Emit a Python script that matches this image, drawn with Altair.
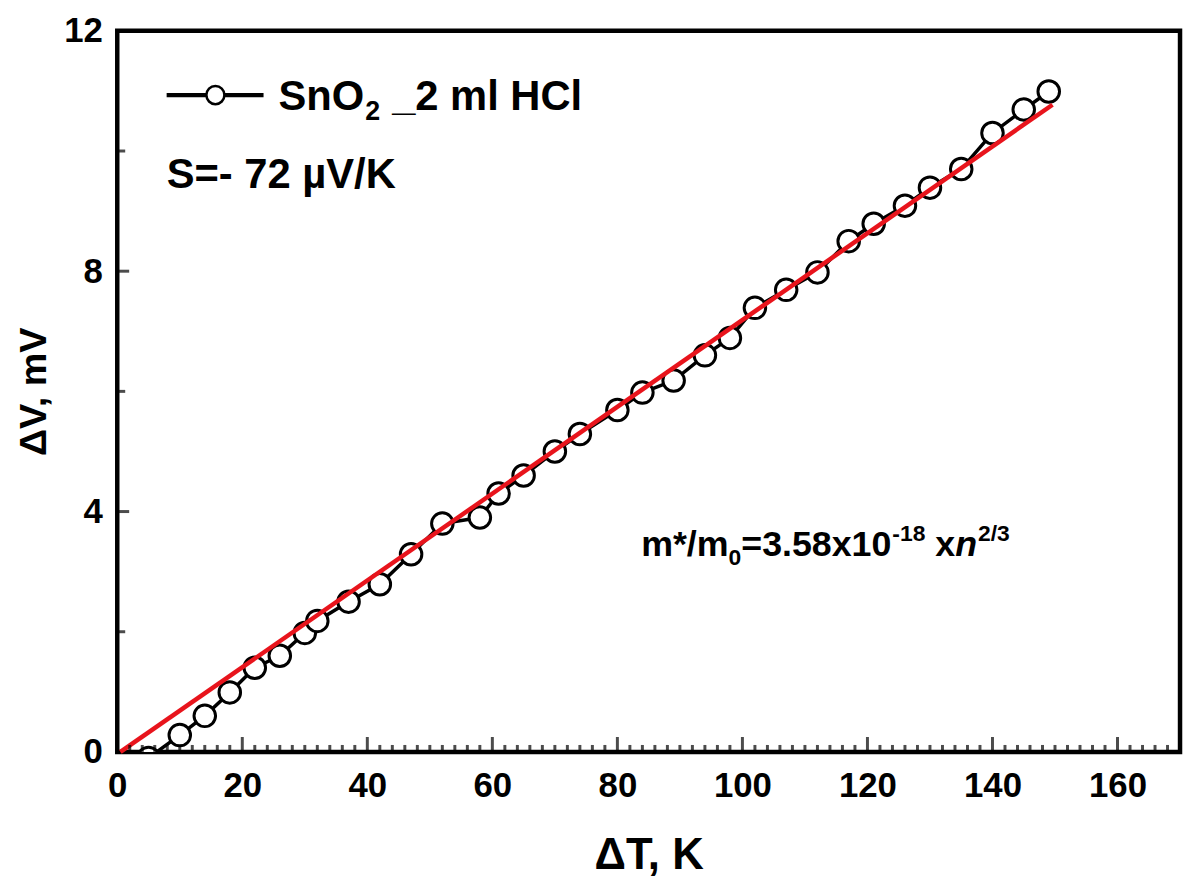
import altair as alt
import pandas as pd

# ---- data ----
dT = [5, 10, 14, 18, 22, 26, 30, 32, 37, 42, 47, 52, 58, 61, 65, 70, 74, 80, 84,
      89, 94, 98, 102, 107, 112, 117, 121, 126, 130, 135, 140, 145, 149]
dV = [-0.10, 0.28, 0.60, 0.99, 1.40, 1.60, 1.98, 2.18, 2.50, 2.79, 3.29, 3.80, 3.90,
      4.30, 4.60, 5.00, 5.29, 5.69, 5.98, 6.18, 6.60, 6.89, 7.39, 7.69, 7.98, 8.50,
      8.79, 9.09, 9.39, 9.70, 10.30, 10.69, 10.99]
fit_T = [0.5, 149.6]
fit_V = [0.0, 10.77]

x_major = [20, 40, 60, 80, 100, 120, 140, 160]
x_minor = [v for v in range(2, 170, 2) if v % 20 != 0]
y_major = [4, 8]
y_minor = [2, 6, 10]
x_labels = [0, 20, 40, 60, 80, 100, 120, 140, 160]
y_labels = [0, 4, 8, 12]

FONT = "Liberation Sans"
W, H = 1070, 726

xs = alt.Scale(domain=[0, 170], nice=False, zero=False)
ys = alt.Scale(domain=[0, 12], nice=False, zero=False)

# Arial/Liberation Sans Bold advance widths (em)
AW = {"S": .667, "n": .611, "O": .778, "2": .556, " ": .278, "_": .556,
      "m": .889, "l": .278, "H": .722, "C": .722, "*": .389, "/": .278, "0": .556,
      "=": .584, "3": .556, ".": .278, "5": .556, "8": .556, "x": .556, "1": .556,
      "-": .333}


def tw(s, size):
    return sum(AW.get(c, .556) for c in s) * size


df = pd.DataFrame({"dT": dT, "dV": dV})
fit = pd.DataFrame({"dT": fit_T, "dV": fit_V})

X = alt.X("dT:Q", scale=xs,
          axis=alt.Axis(values=x_labels, title="ΔT, K", grid=False, ticks=False,
                        domain=False, labelFont=FONT, labelFontSize=35,
                        labelFontWeight="bold", labelColor="black", labelPadding=17,
                        labelFlush=False,
                        titleFont=FONT, titleFontSize=44, titleFontWeight="bold",
                        titleColor="black", titlePadding=30, format="d"))
Y = alt.Y("dV:Q", scale=ys,
          axis=alt.Axis(values=y_labels, title="ΔV, mV", grid=False, ticks=False,
                        domain=False, labelFont=FONT, labelFontSize=35,
                        labelFontWeight="bold", labelColor="black", labelPadding=15,
                        labelFlush=False,
                        titleFont=FONT, titleFontSize=38, titleFontWeight="bold",
                        titleColor="black", titlePadding=10, format="d"))

line = alt.Chart(df).mark_line(color="black", strokeWidth=3.5, clip=True).encode(x=X, y=Y)
pts = alt.Chart(df).mark_point(shape="circle", filled=True, fill="white", stroke="black",
                               strokeWidth=3, size=470, opacity=1, clip=True).encode(
    x=alt.X("dT:Q", scale=xs), y=alt.Y("dV:Q", scale=ys))
red = alt.Chart(fit).mark_line(color="#e8141c", strokeWidth=4.5).encode(
    x=alt.X("dT:Q", scale=xs), y=alt.Y("dV:Q", scale=ys))

# inward ticks
XMAJ, XMIN, YMAJ, YMIN = 15, 7, 12, 8
xmaj = alt.Chart(pd.DataFrame({"t": x_major})).mark_tick(
    color="black", thickness=3, size=XMAJ).encode(
    x=alt.X("t:Q", scale=xs), y=alt.value(H - XMAJ / 2))
xmin = alt.Chart(pd.DataFrame({"t": x_minor})).mark_tick(
    color="black", thickness=3, size=XMIN).encode(
    x=alt.X("t:Q", scale=xs), y=alt.value(H - XMIN / 2))
ymaj = alt.Chart(pd.DataFrame({"t": y_major})).mark_tick(
    color="black", thickness=3, size=YMAJ).encode(
    y=alt.Y("t:Q", scale=ys), x=alt.value(YMAJ / 2))
ymin = alt.Chart(pd.DataFrame({"t": y_minor})).mark_tick(
    color="black", thickness=3, size=YMIN).encode(
    y=alt.Y("t:Q", scale=ys), x=alt.value(YMIN / 2))

# legend
leg_line = pd.DataFrame({"x1": [7.9], "x2": [23.4], "y": [10.93]})
leg_pt = pd.DataFrame({"x": [15.7], "y": [10.93]})
lrule = alt.Chart(leg_line).mark_rule(color="black", strokeWidth=4.5).encode(
    x=alt.X("x1:Q", scale=xs), x2="x2:Q", y=alt.Y("y:Q", scale=ys))
lpt = alt.Chart(leg_pt).mark_point(shape="circle", filled=True, fill="white",
                                   stroke="black", strokeWidth=2.5, size=330,
                                   opacity=1).encode(
    x=alt.X("x:Q", scale=xs), y=alt.Y("y:Q", scale=ys))


def pieces(parts, x0, y0):
    """parts: list of (text, size, dy, style, gap_before_px)"""
    layers = []
    off = 0.0
    for txt, size, dy, style, gap in parts:
        off += gap
        d = pd.DataFrame({"x": [x0], "y": [y0], "t": [txt]})
        layers.append(alt.Chart(d).mark_text(
            font=FONT, fontSize=size, fontWeight="bold", fontStyle=style,
            align="left", baseline="alphabetic", dx=off, dy=dy, color="black").encode(
            x=alt.X("x:Q", scale=xs), y=alt.Y("y:Q", scale=ys), text="t:N"))
        off += tw(txt, size)
    return layers


legend_txt = pieces([("SnO", 42, 0, "normal", 0), ("2", 27, 10, "normal", 1),
                     ("_2 ml HCl", 42, 0, "normal", 12)], 25.8, 10.68)
s_txt = pieces([("S=- 72 µV/K", 42, 0, "normal", 0)], 7.9, 9.39)
F, S = 36, 23
m_txt = pieces([("m*/m", F, 0, "normal", 0), ("0", S, 9, "normal", 0),
                ("=3.58x10", F, 0, "normal", 0), ("-18", S, -15, "normal", 1),
                ("x", F, 0, "normal", 10), ("n", F, 0, "italic", 0),
                ("2/3", S, -15, "normal", 1)], 83.8, 3.26)

chart = alt.layer(line, pts, red, xmaj, xmin, ymaj, ymin, lrule, lpt,
                  *legend_txt, *s_txt, *m_txt).properties(
    width=W, height=H,
    autosize=alt.AutoSizeParams(type="none"),
    padding={"left": 110, "top": 20, "right": 4, "bottom": 130},
).configure_view(stroke="black", strokeWidth=4.5)

chart.save("out.html", embed_options={"renderer": "svg", "actions": False})
